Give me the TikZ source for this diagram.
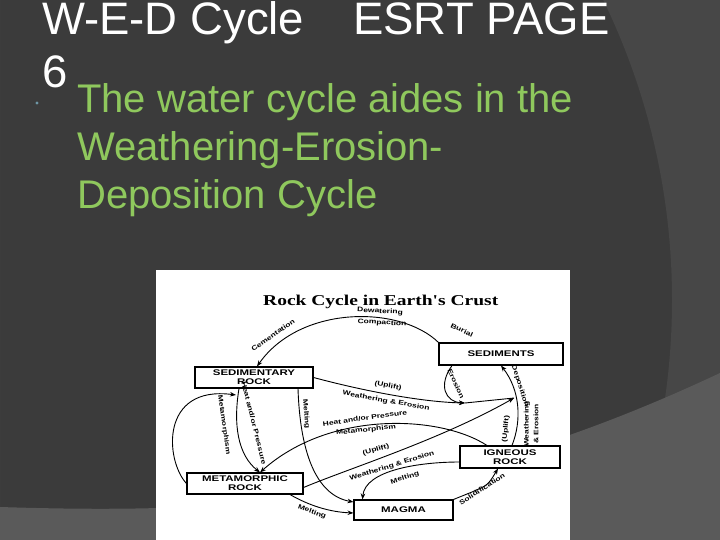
\documentclass[tikz,border=0pt]{standalone}
\usepackage{fontspec}
\setmainfont{Liberation Sans}
\newfontfamily\titf{Liberation Serif}[FakeStretch=1.3]
\newfontfamily\boxf{Liberation Sans}[FakeStretch=1.4]
\newfontfamily\labf{Liberation Sans}[FakeStretch=1.3]
\usetikzlibrary{arrows.meta}
\definecolor{bgdark}{RGB}{59,59,59}
\definecolor{bgmid}{RGB}{71,71,71}
\definecolor{bgband}{RGB}{90,90,90}
\definecolor{slgreen}{RGB}{143,200,93}
\definecolor{bulletc}{RGB}{110,150,165}
\tikzset{
  rbox/.style={draw=black, line width=1.1pt, fill=white, inner sep=0pt, align=center,
    font=\boxf\bfseries\fontsize{8.2}{9}\selectfont},
  lab/.style={inner sep=0pt, font=\labf\bfseries\fontsize{6.5}{7}\selectfont},
  conn/.style={line width=0.9pt, -{Stealth[length=6pt,width=4.5pt]}},
  plain/.style={line width=0.9pt},
  bodytext/.style={anchor=base west, inner sep=0pt, text=slgreen, font=\fontsize{40}{47.5}\selectfont}
}
\begin{document}
\begin{tikzpicture}[x=1pt,y=-1pt]
\useasboundingbox (0,0) rectangle (720,540);
% background
\fill[bgdark] (0,0) rectangle (720,540);
\fill[bgmid, even odd rule] (0,0) rectangle (720,540) (-15,300) circle[radius=687];
\fill[bgband] (0,507) .. controls (250,515) and (450,500) .. (720,373) -- (720,540) -- (0,540) -- cycle;
% slide text
\node[anchor=base west, inner sep=0pt, text=white, font=\fontsize{45.5}{45}\selectfont] (title) at (42,35) {W-E-D Cycle\hspace{0.8em} ESRT PAGE};
\node[anchor=base west, inner sep=0pt, text=white, font=\fontsize{45.5}{45}\selectfont] (six) at (42,88) {6};
\fill[bulletc] (37,103) circle[radius=1.6];
\node[bodytext] (body1) at (77,113) {The water cycle aides in the};
\node[bodytext] (body2) at (77,160.5) {Weathering-Erosion-};
\node[bodytext] (body3) at (77,208) {Deposition Cycle};
% image
\fill[white] (156,270) rectangle (570,540);
\node[anchor=base west, inner sep=0pt, font=\titf\bfseries\fontsize{15}{15}\selectfont] (dtitle) at (263,305) {Rock Cycle in Earth's Crust};
% boxes
\node[rbox, minimum width=118pt, minimum height=21pt] (sedrock) at (254,377.5) {SEDIMENTARY\\ROCK};
\node[rbox, minimum width=124pt, minimum height=22pt] (sediments) at (501,354) {SEDIMENTS};
\node[rbox, minimum width=100pt, minimum height=22pt] (igneous) at (510,457) {IGNEOUS\\ROCK};
\node[rbox, minimum width=116pt, minimum height=21pt] (meta) at (245,483.5) {METAMORPHIC\\ROCK};
\node[rbox, minimum width=99pt, minimum height=20pt] (magma) at (403.5,510) {MAGMA};
\coordinate (jE) at (465,403);
\coordinate (jA) at (514,398);
\coordinate (loopEnd) at (236,395);
% connectors
\draw[conn] (sediments.north west) .. controls (400,305) and (300,305) .. ([xshift=3pt]sedrock.north);
\draw[conn] ([xshift=-49pt]sediments.south) .. controls (438,385) and (445,402) .. (jE);
\draw[conn] (sedrock.east) .. controls (360,390) and (420,402) .. (jE);
\draw[plain] (jE) -- (jA);
\draw[conn] ([yshift=-4pt]meta.east) .. controls (350,468) and (440,440) .. (jA);
\draw[conn] ([xshift=2pt]igneous.north) .. controls (522,420) and (520,390) .. (sediments.south);
\draw[conn] ([xshift=-23pt]igneous.north) .. controls (440,415) and (330,410) .. ([xshift=15pt]meta.north);
\draw[conn] ([xshift=-15pt]sedrock.south) .. controls (233,425) and (238,455) .. ([xshift=15pt]meta.north);
\draw[conn] (meta.west) .. controls (165,460) and (160,385) .. (loopEnd);
\draw[conn] ([xshift=44pt]sedrock.south) .. controls (300,450) and (315,495) .. ([yshift=8pt]magma.west);
\draw[conn] ([xshift=45pt]meta.south) .. controls (310,506) and (330,512) .. ([yshift=-3pt]magma.west);
\draw[conn] ([yshift=-5pt]igneous.west) .. controls (420,462) and (365,470) .. ([xshift=-41pt]magma.north);
\draw[conn] (magma.north east) -- (472,492) .. controls (488,485) .. ([xshift=-12pt]igneous.south);
% labels
\node[lab, rotate=35] (lCem) at (273,335) {Cementation};
\node[lab, rotate=-3] (lDew) at (380,311.5) {Dewatering};
\node[lab, rotate=-3] (lCom) at (382,323) {Compaction};
\node[lab, rotate=-25] (lBur) at (462,330) {Burial};
\node[lab, rotate=-10] (lUp1) at (388,386) {(Uplift)};
\node[lab, rotate=-10] (lWE1) at (386,401) {Weathering \& Erosion};
\node[lab, rotate=-65] (lEro) at (456,384) {Erosion};
\node[lab, rotate=-72] (lDep) at (520,386) {Deposition};
\node[lab, rotate=85] (lUp2) at (506,429) {(Uplift)};
\node[lab, rotate=90] (lWea) at (527,424) {Weathering};
\node[lab, rotate=90] (lEr2) at (536,424) {\& Erosion};
\node[lab, rotate=8] (lHP1) at (365,418) {Heat and/or Pressure};
\node[lab, rotate=6] (lMet1) at (366,430) {Metamorphism};
\node[lab, rotate=-82] (lMet2) at (224,425) {Metamorphism};
\node[lab, rotate=-76] (lHP2) at (254,423) {Heat and/or Pressure};
\node[lab, rotate=-85] (lMel1) at (306,414) {Melting};
\node[lab, rotate=17] (lUp3) at (376,450) {(Uplift)};
\node[lab, rotate=17] (lWE3) at (392,466) {Weathering \& Erosion};
\node[lab, rotate=18] (lMel2) at (405,478) {Melting};
\node[lab, rotate=-20] (lMel3) at (312,512) {Melting};
\node[lab, rotate=33] (lSol) at (482,489) {Solidification};
\end{tikzpicture}
\end{document}
